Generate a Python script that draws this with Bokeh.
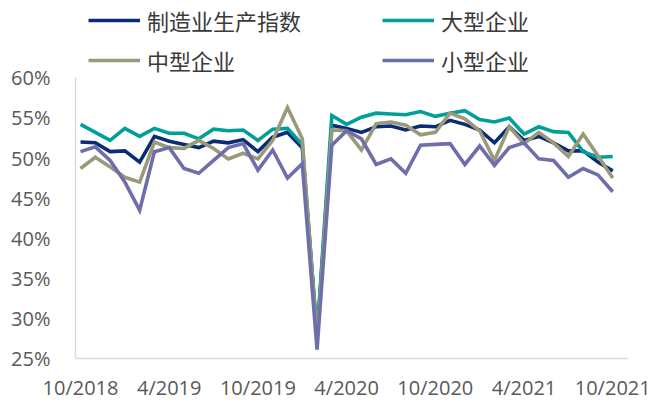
from bokeh.plotting import figure
from bokeh.models import (Range1d, FixedTicker, PrintfTickFormatter, Legend, LegendItem,
                          ColumnDataSource)
from bokeh.embed import file_html
from bokeh.resources import INLINE

# ---- data -------------------------------------------------------------
months = list(range(37))  # 10/2018 ... 10/2021, monthly
tick_idx = [0, 6, 12, 18, 24, 30, 36]
tick_labels = ["10/2018", "4/2019", "10/2019", "4/2020", "10/2020", "4/2021", "10/2021"]

series_names = ["制造业生产指数", "大型企业", "中型企业", "小型企业"]

mfg = [52.0, 51.9, 50.8, 50.9, 49.5, 52.7, 52.1, 51.7, 51.3, 52.1, 51.9, 52.3,
       50.8, 52.6, 53.2, 51.3, 27.8, 54.1, 53.7, 53.2, 53.9, 54.0, 53.5, 54.0,
       53.9, 54.7, 54.2, 53.5, 51.9, 53.9, 52.2, 52.7, 51.9, 50.9, 50.9, 49.5, 48.4]
large = [54.2, 53.2, 52.2, 53.7, 52.7, 53.7, 53.1, 53.1, 52.4, 53.6, 53.4, 53.5,
         52.2, 53.6, 53.7, 51.7, 28.0, 55.3, 54.2, 55.1, 55.6, 55.5, 55.4, 55.8,
         55.2, 55.6, 55.9, 54.8, 54.5, 55.0, 53.0, 53.9, 53.3, 53.2, 50.8, 50.1, 50.2]
medium = [48.7, 50.1, 48.9, 47.6, 47.0, 52.0, 51.3, 51.2, 52.2, 51.2, 49.9, 50.6,
          49.9, 52.2, 56.3, 52.4, 27.2, 53.5, 53.4, 51.0, 54.3, 54.5, 54.1, 52.9,
          53.2, 55.6, 54.9, 53.4, 49.7, 53.9, 51.8, 53.2, 51.9, 50.2, 53.0, 50.3, 47.5]
small = [50.8, 51.4, 49.7, 47.0, 43.5, 50.8, 51.3, 48.7, 48.1, 49.7, 51.3, 51.8,
         48.5, 51.0, 47.5, 49.3, 26.1, 51.6, 53.4, 52.4, 49.2, 49.9, 48.1, 51.6,
         51.7, 51.8, 49.2, 51.5, 49.1, 51.3, 51.9, 49.9, 49.7, 47.6, 48.7, 47.9, 45.8]

colors = ["#0B2C74", "#00A099", "#9A9A7A", "#6E6EAA"]

# ---- figure -----------------------------------------------------------
p = figure(width=655, height=403,
           x_range=Range1d(-0.34, 37.0), y_range=Range1d(25, 69.65),
           output_backend="svg", toolbar_location=None,
           min_border_left=75, min_border_right=28,
           min_border_top=0, min_border_bottom=42)
p.outline_line_color = None
p.xgrid.grid_line_color = None
p.ygrid.grid_line_color = None
p.background_fill_color = "white"
p.border_fill_color = "white"

renderers = []
for vals, col in zip([mfg, large, medium, small], colors):
    src = ColumnDataSource(dict(x=months, y=vals))
    r = p.line("x", "y", source=src, line_color=col, line_width=3.6,
               line_join="miter")
    renderers.append(r)

tick_font = "Open Sans"
# y axis
yax = p.yaxis[0]
yax.ticker = FixedTicker(ticks=[25, 30, 35, 40, 45, 50, 55, 60])
yax.formatter = PrintfTickFormatter(format="%d%%")
yax.bounds = (25, 60)
yax.axis_line_color = "#D9D9D9"
yax.axis_line_width = 1.5
yax.major_tick_line_color = None
yax.minor_tick_line_color = None
yax.major_tick_out = 0
yax.major_label_standoff = 25
yax.major_label_text_font = tick_font
yax.major_label_text_font_size = "20px"
yax.major_label_text_color = "#595959"

# x axis
xax = p.xaxis[0]
xax.ticker = FixedTicker(ticks=tick_idx)
xax.major_label_overrides = {i: s for i, s in zip(tick_idx, tick_labels)}
xax.axis_line_color = "#D9D9D9"
xax.axis_line_width = 1.5
xax.major_tick_line_color = None
xax.minor_tick_line_color = None
xax.major_tick_out = 0
xax.major_label_standoff = 15
xax.major_label_text_font = tick_font
xax.major_label_text_font_size = "20px"
xax.major_label_text_color = "#595959"

legend_font = "Noto Sans CJK SC"


def make_legend(items, loc):
    lg = Legend(items=items, location=loc, orientation="vertical",
                padding=0, margin=0, border_line_color=None,
                background_fill_alpha=0, glyph_width=52, glyph_height=20,
                label_height=20, label_standoff=7, spacing=8,
                label_text_font=legend_font, label_text_font_size="22px",
                label_text_color="#3A3A3A")
    return lg


lg1 = make_legend([LegendItem(label=series_names[0], renderers=[renderers[0]]),
                   LegendItem(label=series_names[2], renderers=[renderers[2]])],
                  (13, 282))
lg2 = make_legend([LegendItem(label=series_names[1], renderers=[renderers[1]]),
                   LegendItem(label=series_names[3], renderers=[renderers[3]])],
                  (307, 282))
p.add_layout(lg1)
p.add_layout(lg2)

open("out.html", "w").write(file_html(p, INLINE))
